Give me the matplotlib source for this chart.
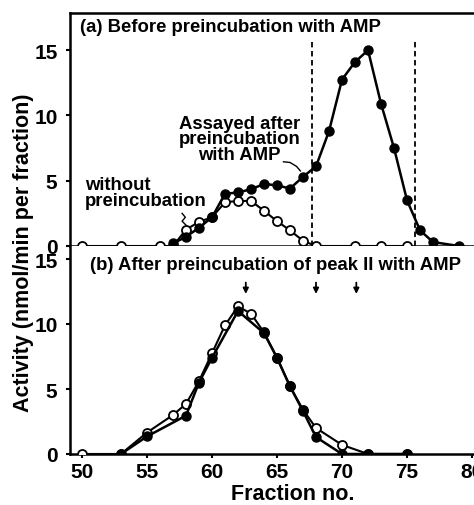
import matplotlib
matplotlib.use("Agg")
import matplotlib.pyplot as plt

plt.rcParams['font.family'] = ['Liberation Sans', 'DejaVu Sans']
plt.rcParams['font.weight'] = 'bold'

# panel (a): before preincubation with AMP
frac_a_without = [50, 53, 56, 57, 58, 59, 60, 61, 62, 63, 64, 65, 66, 67, 68, 71, 73, 75]
act_a_without = [0, 0, 0, 0, 1.25, 1.85, 2.2, 3.35, 3.45, 3.45, 2.7, 1.9, 1.2, 0.4, 0, 0, 0, 0]
frac_a_amp = [57, 58, 59, 60, 61, 62, 63, 64, 65, 66, 67, 68, 69, 70, 71, 72, 73, 74, 75, 76, 77, 79]
act_a_amp = [0.2, 0.7, 1.4, 2.2, 4.0, 4.1, 4.35, 4.75, 4.65, 4.4, 5.3, 6.1, 8.8, 12.75, 14.1, 15.0,
             10.9, 7.5, 3.5, 1.2, 0.3, 0]
pool_limits = [67.7, 75.6]

# panel (b): after preincubation of peak II with AMP
frac_b_open = [50, 53, 55, 57, 58, 59, 60, 61, 62, 63, 64, 65, 66, 67, 68, 70, 72, 75]
act_b_open = [0, 0, 1.65, 3.0, 3.85, 5.6, 7.75, 9.9, 11.35, 10.8, 9.35, 7.4, 5.2, 3.4, 2.0, 0.7, 0, 0]
frac_b_filled = [53, 55, 58, 59, 60, 62, 64, 65, 66, 67, 68, 70, 72, 75]
act_b_filled = [0, 1.35, 2.95, 5.5, 7.4, 11.0, 9.3, 7.4, 5.2, 3.3, 1.3, 0, 0, 0]
marker_fracs = [62.6, 68.0, 71.1]

yticks = [0, 5, 10, 15]
xticks = [50, 55, 60, 65, 70, 75, 80]

W, H = 474, 506
fig = plt.figure(figsize=(W / 100, H / 100), dpi=100)
left = 70 / W
width = 1 - left
ax_a = fig.add_axes([left, 1 - 247 / H, width, (247 - 14) / H])
ax_b = fig.add_axes([left, 1 - 455 / H, width, (455 - 247) / H])

open_style = dict(color='black', lw=1.5, marker='o', ms=6.5, mfc='white', mec='black', mew=1.3)
fill_style = dict(color='black', lw=1.8, marker='o', ms=6.5, mfc='black', mec='black')
txt = 13.3

# (a)
ax_a.plot(frac_a_without, act_a_without, zorder=3, **open_style)
ax_a.plot(frac_a_amp, act_a_amp, zorder=4, **fill_style)
for xv in pool_limits:
    ax_a.plot([xv, xv], [0, 15.8], color='black', lw=1.3, ls=(0, (3, 2)), zorder=2)
ax_a.text(0.025, 0.94, '(a) Before preincubation with AMP', transform=ax_a.transAxes,
          fontsize=txt, fontweight='bold', va='center', ha='left')
ax_a.text(62.1, 8.2, 'Assayed after\npreincubation\nwith AMP', fontsize=txt, fontweight='bold',
          ha='center', va='center', multialignment='center', linespacing=0.92)
ax_a.plot([65.5, 66.0, 66.5, 66.8], [6.45, 6.4, 6.1, 5.75], color='black', lw=1)
ax_a.text(50.25, 4.1, 'without\npreincubation', fontsize=txt, fontweight='bold',
          ha='left', va='center', linespacing=0.92)
ax_a.plot([57.7, 57.95, 57.7, 58.0], [2.5, 2.2, 1.9, 1.6], color='black', lw=1)
ax_a.set_ylim(0, 17.85)

# (b)
ax_b.plot(frac_b_open, act_b_open, zorder=3, **open_style)
ax_b.plot(frac_b_filled, act_b_filled, zorder=4, **fill_style)
for xv in marker_fracs:
    ax_b.annotate('', xy=(xv, 12.1), xytext=(xv, 13.4),
                  arrowprops=dict(arrowstyle='-|>', color='black', lw=1.3, mutation_scale=8))
ax_b.text(0.05, 0.913, '(b) After preincubation of peak II with AMP', transform=ax_b.transAxes,
          fontsize=txt, fontweight='bold', va='center', ha='left')
ax_b.set_ylim(0, 16)

for ax in (ax_a, ax_b):
    ax.set_xlim(49.08, 80.15)
    ax.set_yticks(yticks)
    ax.spines['right'].set_visible(False)
    for s in ('left', 'bottom', 'top'):
        ax.spines[s].set_linewidth(1.8)
    ax.tick_params(axis='y', direction='out', length=3, width=1.5, pad=6, labelsize=15)
    ax.tick_params(axis='x', direction='out', length=3, width=1.5, pad=3, labelsize=15)
    for lab in ax.get_yticklabels() + ax.get_xticklabels():
        lab.set_fontweight('bold')

ax_a.set_xticks([])
ax_b.spines['top'].set_visible(False)
ax_b.set_xticks(xticks)
for lab in ax_b.get_xticklabels():
    lab.set_fontweight('bold')

fig.text(293 / W, 1 - 495 / H, 'Fraction no.', fontsize=15.5, fontweight='bold',
         ha='center', va='center')
fig.text(24 / W, 1 - 253 / H, 'Activity (nmol/min per fraction)', rotation=90,
         fontsize=15.5, fontweight='bold', ha='center', va='center')

plt.savefig('out.png', dpi=100)
